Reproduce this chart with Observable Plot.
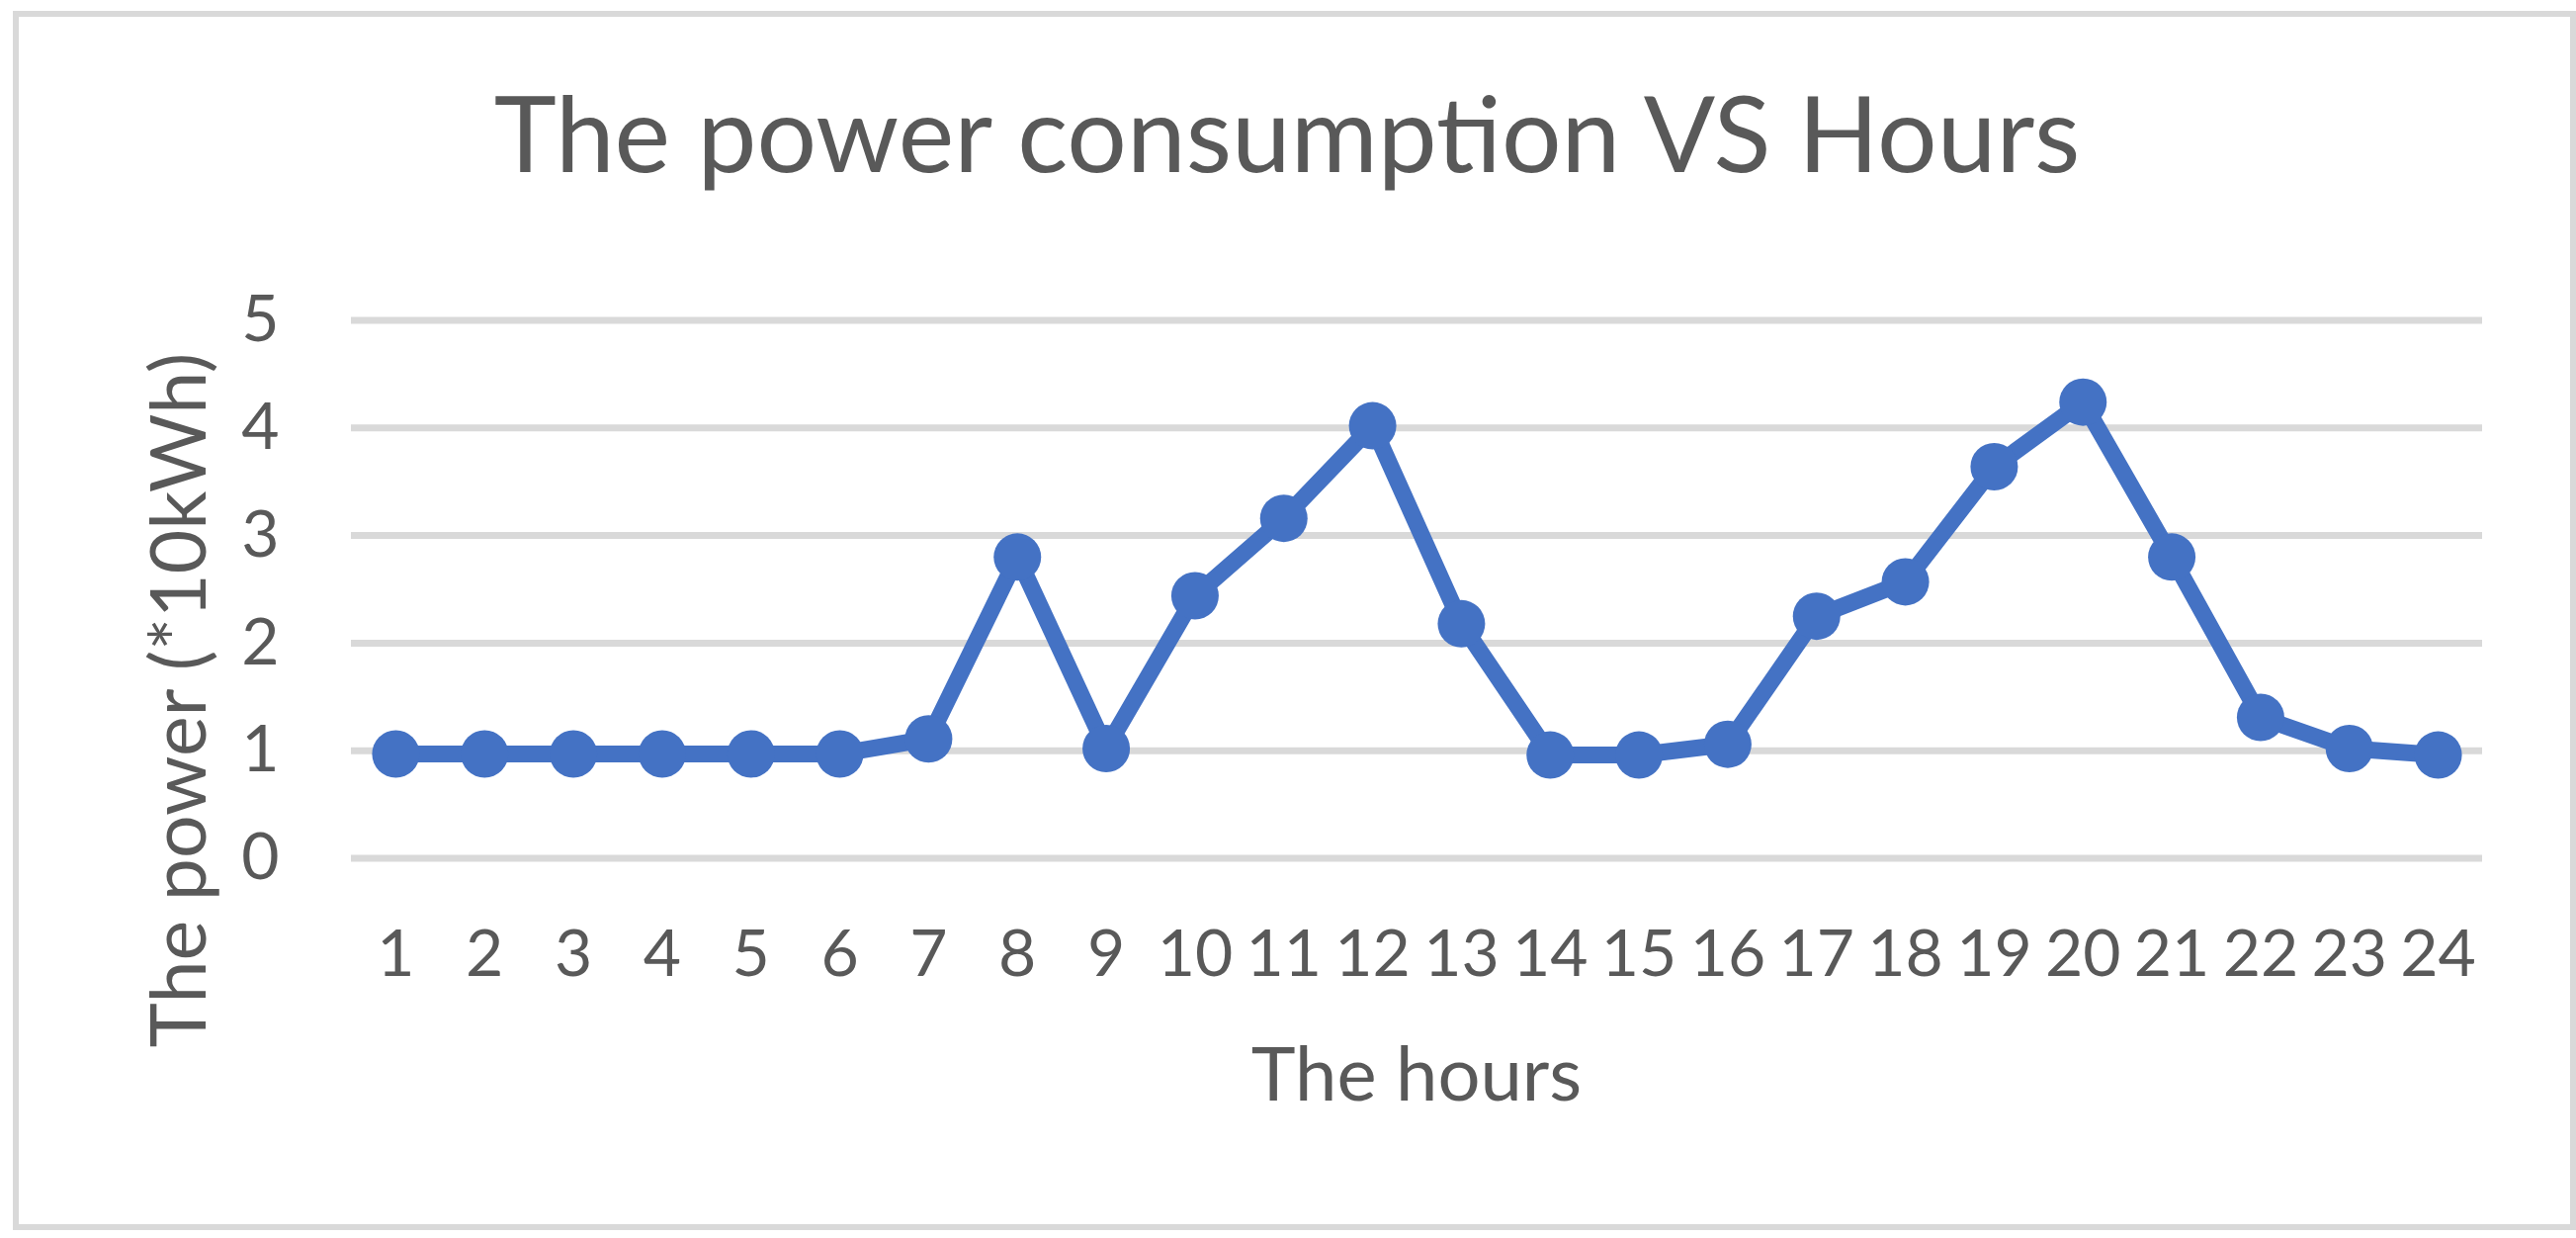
<!DOCTYPE html>
<html>
<head>
<meta charset="utf-8">
<script src="https://cdn.jsdelivr.net/npm/d3@7"></script>
<script src="https://cdn.jsdelivr.net/npm/@observablehq/plot@0.6"></script>
<style>
  html, body { margin: 0; padding: 0; background: #fff; }
  #wrap { position: relative; width: 2606px; height: 1252px; overflow: hidden; background: #fff; font-family: Lato, "Open Sans", sans-serif; color: #595959; }
  #chart { position: absolute; left: 0; top: 0; }
  .t { position: absolute; white-space: nowrap; line-height: 1; color: #595959; font-family: Lato, sans-serif; }
  #frame { position: absolute; left: 13px; top: 11px; width: 2593px; height: 1233px; box-sizing: border-box; border: 6px solid #d9d9d9; pointer-events: none; }
</style>
</head>
<body>
<div id="wrap">
  <div id="chart"></div>
  <div class="t" id="title" style="left:1302px; top:79px; font-size:107px; transform: translateX(-50%);">The power consumption VS Hours</div>
  <div class="t" id="xtitle" style="left:1433px; top:1046px; font-size:76px; transform: translateX(-50%);">The hours</div>
  <div class="t" id="ytitle" style="left:178px; top:708px; font-size:77px; transform: translate(-50%,-50%) rotate(-90deg);">The power (*10kWh)</div>
  <div id="frame"></div>
</div>
<script>
// Data
const hours = [1,2,3,4,5,6,7,8,9,10,11,12,13,14,15,16,17,18,19,20,21,22,23,24];
const power = [0.97,0.97,0.97,0.97,0.97,0.97,1.11,2.80,1.02,2.44,3.16,4.02,2.18,0.96,0.96,1.06,2.25,2.57,3.64,4.24,2.80,1.31,1.02,0.96];
const yTicks = [0,1,2,3,4,5];

const data = hours.map((h, i) => ({hour: h, power: power[i]}));

const lineColor = "#4472C4";

const chart = Plot.plot({
  width: 2606,
  height: 1252,
  marginLeft: 355,
  marginRight: 95,
  marginTop: 323.5,
  marginBottom: 384.5,
  style: {fontFamily: "Lato, sans-serif", fontSize: "66px", color: "#595959", background: "transparent"},
  x: {type: "point", domain: hours, padding: 0.5, align: 0.5, round: false},
  y: {domain: [0, 5]},
  marks: [
    Plot.gridY(yTicks, {stroke: "#d9d9d9", strokeOpacity: 1, strokeWidth: 7}),
    Plot.axisY(yTicks, {tickSize: 0, tickPadding: 73, label: null, fontSize: 66, tickFormat: d3.format("d")}),
    Plot.axisX(hours, {tickSize: 0, tickPadding: 72, label: null, fontSize: 66, tickFormat: d3.format("d")}),
    Plot.line(data, {x: "hour", y: "power", stroke: lineColor, strokeWidth: 17, strokeLinejoin: "round"}),
    Plot.dot(data, {x: "hour", y: "power", r: 24, fill: lineColor, stroke: "none"})
  ]
});
document.getElementById("chart").appendChild(chart);
</script>
</body>
</html>
